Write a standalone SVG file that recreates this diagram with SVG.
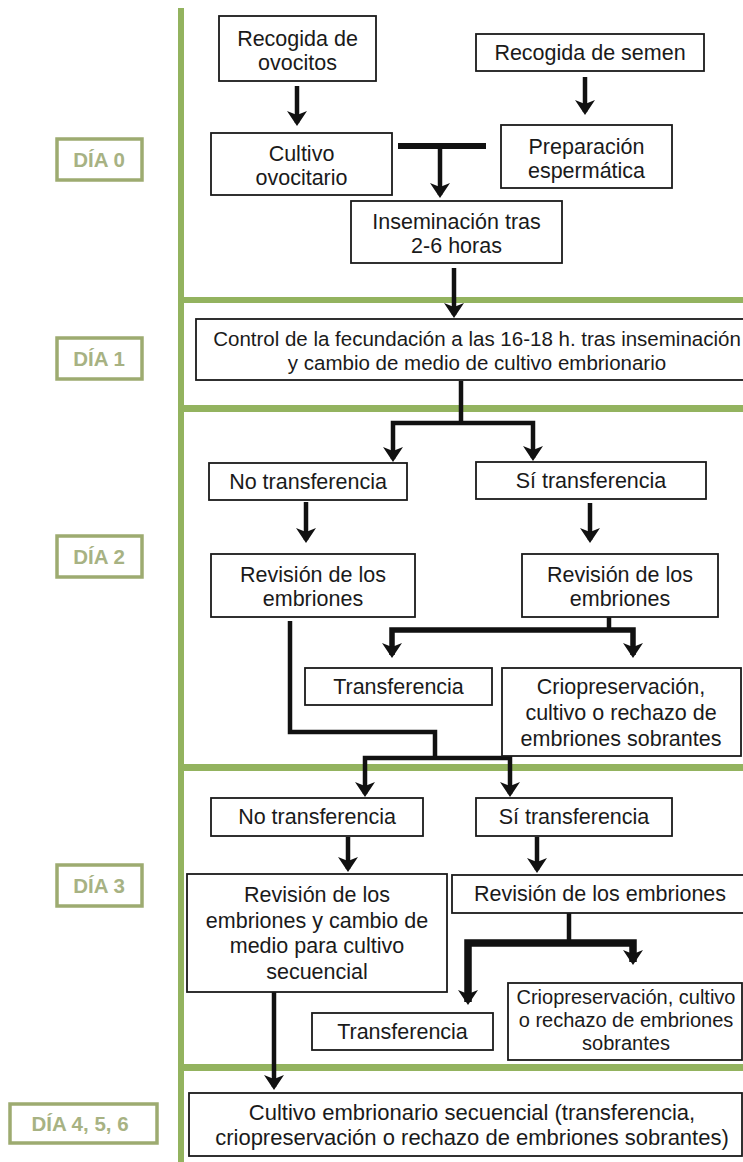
<svg xmlns="http://www.w3.org/2000/svg" width="743" height="1162" viewBox="0 0 743 1162">
<defs>
<style>
.box{fill:#fff;stroke:#1a1a1a;stroke-width:1.8}
.t{font-family:"Liberation Sans",Arial,sans-serif;font-size:21.5px;fill:#1a1a1a;text-anchor:middle}
.day rect{fill:#fff;stroke:#9dab70;stroke-width:3.5}
.day text{font-family:"Liberation Sans",Arial,sans-serif;font-size:20.5px;font-weight:bold;fill:#a7b283;text-anchor:middle}
.band{fill:#93b35f}
.c{fill:none;stroke:#111;stroke-width:4.5;stroke-linejoin:miter}
</style>
<marker id="ah" markerUnits="userSpaceOnUse" markerWidth="15" markerHeight="20" viewBox="0 0 15 20" refX="12" refY="10" orient="auto-start-reverse">
<path d="M0,0 L15,10 L0,20 L4,10 z" fill="#111"/>
</marker>
</defs>
<rect width="743" height="1162" fill="#fff"/>

<g id="frame">
<rect class="band" x="178" y="8" width="6" height="1154"/>
<rect class="band" x="178" y="297" width="565" height="6"/>
<rect class="band" x="178" y="405" width="565" height="7"/>
<rect class="band" x="178" y="764" width="565" height="7"/>
<rect class="band" x="178" y="1064" width="565" height="7"/>
</g>

<g id="day0" class="day"><rect x="57" y="139" width="85" height="41"/><text x="99" y="167">DÍA 0</text></g>
<g id="day1" class="day"><rect x="57" y="338" width="85" height="41"/><text x="99" y="366">DÍA 1</text></g>
<g id="day2" class="day"><rect x="57" y="536" width="85" height="41"/><text x="99" y="564">DÍA 2</text></g>
<g id="day3" class="day"><rect x="57" y="865" width="85" height="41"/><text x="99" y="893">DÍA 3</text></g>
<g id="day456" class="day"><rect x="10" y="1104" width="147" height="39"/><text x="80" y="1131">DÍA 4, 5, 6</text></g>

<g id="connectors">
<path class="c" d="M297,86 V123" marker-end="url(#ah)"/>
<path class="c" d="M585,77 V112" marker-end="url(#ah)"/>
<path class="c" d="M398,146 H486" style="stroke-width:6"/>
<path class="c" d="M440,146 V195" marker-end="url(#ah)"/>
<path class="c" d="M454,268 V315" marker-end="url(#ah)"/>
<path class="c" d="M461,381 V423"/>
<path class="c" d="M393,459 V423 H533 V458" marker-start="url(#ah)" marker-end="url(#ah)"/>
<path class="c" d="M306,502 V540" marker-end="url(#ah)"/>
<path class="c" d="M590,503 V540" marker-end="url(#ah)"/>
<path class="c" d="M609,617 V630"/>
<path class="c" d="M392,655 V630 H633 V655" style="stroke-width:5.5" marker-start="url(#ah)" marker-end="url(#ah)"/>
<path class="c" d="M290,621 V732 H435 V758"/>
<path class="c" d="M365,794 V758 H510 V794" marker-start="url(#ah)" marker-end="url(#ah)"/>
<path class="c" d="M348,837 V869" marker-end="url(#ah)"/>
<path class="c" d="M537,837 V870" marker-end="url(#ah)"/>
<path class="c" d="M569,913 V943"/>
<path class="c" d="M468,1002 V943 H633 V962" style="stroke-width:7.5" marker-start="url(#ah)" marker-end="url(#ah)"/>
<path class="c" d="M274,992 V1087" marker-end="url(#ah)"/>
</g>

<g id="n_ovocitos"><rect class="box" x="219" y="16" width="157" height="65"/><text class="t" x="297.5" y="46">Recogida de</text><text class="t" x="297.5" y="70">ovocitos</text></g>
<g id="n_semen"><rect class="box" x="476" y="34" width="228" height="37"/><text class="t" x="590" y="60">Recogida de semen</text></g>
<g id="n_cultivo_ovo"><rect class="box" x="211" y="133" width="181" height="62"/><text class="t" x="301.5" y="161">Cultivo</text><text class="t" x="301.5" y="184.5">ovocitario</text></g>
<g id="n_preparacion"><rect class="box" x="501" y="125" width="171" height="63"/><text class="t" x="586.5" y="154">Preparación</text><text class="t" x="586.5" y="177.5">espermática</text></g>
<g id="n_inseminacion"><rect class="box" x="351" y="201" width="211" height="62"/><text class="t" x="456.5" y="229">Inseminación tras</text><text class="t" x="456.5" y="252.5">2-6 horas</text></g>
<g id="n_control"><rect class="box" x="196" y="319" width="566" height="61"/><text class="t" x="477" y="346" style="font-size:20.5px">Control de la fecundación a las 16-18 h. tras inseminación</text><text class="t" x="477" y="370" style="font-size:20.5px">y cambio de medio de cultivo embrionario</text></g>
<g id="n_no_d2"><rect class="box" x="209" y="463" width="198" height="37"/><text class="t" x="308" y="489">No transferencia</text></g>
<g id="n_si_d2"><rect class="box" x="476" y="462" width="230" height="37"/><text class="t" x="591" y="488">Sí transferencia</text></g>
<g id="n_rev_left_d2"><rect class="box" x="211" y="554" width="204" height="63"/><text class="t" x="313" y="582">Revisión de los</text><text class="t" x="313" y="605.5">embriones</text></g>
<g id="n_rev_right_d2"><rect class="box" x="522" y="554" width="196" height="63"/><text class="t" x="620" y="582">Revisión de los</text><text class="t" x="620" y="605.5">embriones</text></g>
<g id="n_transf_d2"><rect class="box" x="305" y="668" width="187" height="37"/><text class="t" x="398.5" y="694">Transferencia</text></g>
<g id="n_crio_d2"><rect class="box" x="502" y="668" width="239" height="88"/><text class="t" x="621" y="694">Criopreservación,</text><text class="t" x="621" y="720">cultivo o rechazo de</text><text class="t" x="621" y="746">embriones sobrantes</text></g>
<g id="n_no_d3"><rect class="box" x="211" y="798" width="212" height="38"/><text class="t" x="317" y="824">No transferencia</text></g>
<g id="n_si_d3"><rect class="box" x="476" y="798" width="196" height="38"/><text class="t" x="574" y="824">Sí transferencia</text></g>
<g id="n_rev_cambio_d3"><rect class="box" x="187" y="874" width="260" height="118"/><text class="t" x="317" y="902">Revisión de los</text><text class="t" x="317" y="927.5">embriones y cambio de</text><text class="t" x="317" y="953">medio para cultivo</text><text class="t" x="317" y="978.5">secuencial</text></g>
<g id="n_rev_d3"><rect class="box" x="452" y="875" width="300" height="38"/><text class="t" x="600" y="901">Revisión de los embriones</text></g>
<g id="n_transf_d3"><rect class="box" x="312" y="1013" width="181" height="37"/><text class="t" x="402.5" y="1039">Transferencia</text></g>
<g id="n_crio_d3"><rect class="box" x="508" y="983" width="234" height="77"/><text class="t" x="626" y="1004" style="font-size:20px">Criopreservación, cultivo</text><text class="t" x="626" y="1027" style="font-size:20px">o rechazo de embriones</text><text class="t" x="626" y="1050" style="font-size:20px">sobrantes</text></g>
<g id="n_secuencial"><rect class="box" x="189" y="1093" width="553" height="63"/><text class="t" x="472" y="1120" style="font-size:22px">Cultivo embrionario secuencial (transferencia,</text><text class="t" x="472" y="1145" style="font-size:22px">criopreservación o rechazo de embriones sobrantes)</text></g>
</svg>
